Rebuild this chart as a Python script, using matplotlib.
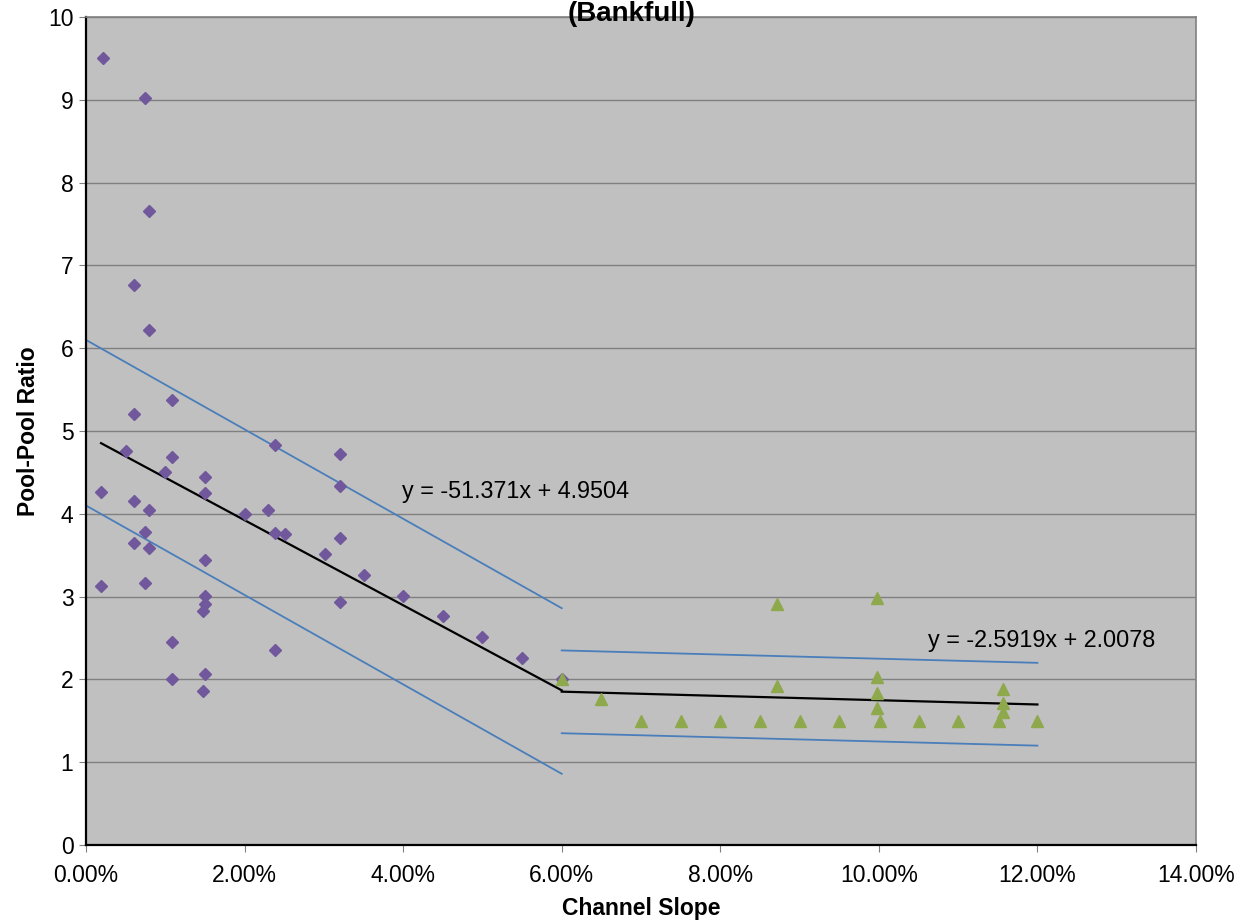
import matplotlib
matplotlib.use("Agg")
import matplotlib.pyplot as plt
from matplotlib.ticker import PercentFormatter, MultipleLocator

plt.rcParams['font.family'] = ['Liberation Sans', 'DejaVu Sans']

# purple diamonds (lower slopes)
slope_a = [0.0022, 0.0074, 0.0079, 0.0060, 0.0079, 0.0060, 0.0108, 0.0050, 0.0238, 0.0320,
           0.0108, 0.0100, 0.0150, 0.0150, 0.0320, 0.0019, 0.0060, 0.0079, 0.0200, 0.0230,
           0.0238, 0.0251, 0.0074, 0.0060, 0.0079, 0.0320, 0.0301, 0.0350, 0.0150, 0.0019,
           0.0074, 0.0150, 0.0150, 0.0147, 0.0320, 0.0108, 0.0108, 0.0150, 0.0147, 0.0238,
           0.0400, 0.0450, 0.0500, 0.0550, 0.0600]
ratio_a = [9.50, 9.02, 7.66, 6.76, 6.22, 5.21, 5.37, 4.76, 4.83, 4.72,
           4.69, 4.50, 4.45, 4.25, 4.33, 4.26, 4.16, 4.04, 4.00, 4.04,
           3.77, 3.76, 3.78, 3.65, 3.59, 3.71, 3.51, 3.26, 3.44, 3.13,
           3.16, 3.01, 2.91, 2.83, 2.94, 2.45, 2.00, 2.06, 1.86, 2.36,
           3.01, 2.76, 2.51, 2.26, 2.01]

# green triangles (steeper slopes)
slope_b = [0.0600, 0.0650, 0.0700, 0.0750, 0.0800, 0.0850, 0.0900, 0.0950, 0.1001, 0.0872,
           0.0872, 0.0998, 0.0998, 0.0998, 0.0998, 0.1050, 0.1100, 0.1151, 0.1156, 0.1156,
           0.1156, 0.1200]
ratio_b = [2.01, 1.76, 1.50, 1.50, 1.50, 1.50, 1.50, 1.50, 1.50, 2.91,
           1.92, 2.98, 2.03, 1.84, 1.65, 1.50, 1.50, 1.50, 1.89, 1.71,
           1.61, 1.50]

# trend lines and bands (end points)
trend1_x = [0.0019, 0.06]
trend1_y = [4.853, 1.868]
trend2_x = [0.06, 0.12]
trend2_y = [1.852, 1.697]
band1_x = [0.0, 0.06]
band1_up = [6.10, 2.86]
band1_lo = [4.10, 0.86]
band2_x = [0.06, 0.12]
band2_up = [2.35, 2.20]
band2_lo = [1.35, 1.20]

fig = plt.figure(figsize=(12.44, 9.22), dpi=100)
ax = fig.add_axes([86/1244, 1-845/922, 1110/1244, 828/922])
ax.set_facecolor('#C0C0C0')

blue = '#4A7EBB'
ax.plot(band1_x, band1_up, color=blue, lw=1.3, zorder=2)
ax.plot(band1_x, band1_lo, color=blue, lw=1.3, zorder=2)
ax.plot(band2_x, band2_up, color=blue, lw=1.3, zorder=2)
ax.plot(band2_x, band2_lo, color=blue, lw=1.3, zorder=2)
ax.plot(trend1_x, trend1_y, color='black', lw=1.6, zorder=3)
ax.plot(trend2_x, trend2_y, color='black', lw=1.6, zorder=3)

ax.plot(slope_a, ratio_a, 'D', color='#71589C', ms=6.5, mec='#71589C', zorder=4)
ax.plot(slope_b, ratio_b, '^', color='#8EA84C', ms=8.5, mec='#8EA84C', zorder=5)

ax.text(0.0399, 4.27, 'y = -51.371x + 4.9504', fontsize=16.8, va='center', ha='left')
ax.text(0.1062, 2.47, 'y = -2.5919x + 2.0078', fontsize=16.8, va='center', ha='left')

ax.set_xlim(0, 0.14)
ax.set_ylim(0, 10)
ax.xaxis.set_major_locator(MultipleLocator(0.02))
ax.xaxis.set_major_formatter(PercentFormatter(xmax=1, decimals=2))
ax.yaxis.set_major_locator(MultipleLocator(1))
ax.grid(axis='y', color='#808080', lw=1.0)
ax.set_axisbelow(True)

for side in ['top', 'right']:
    ax.spines[side].set_color('#808080')
    ax.spines[side].set_linewidth(1.2)
for side in ['left', 'bottom']:
    ax.spines[side].set_color('black')
    ax.spines[side].set_linewidth(1.6)
ax.tick_params(axis='both', labelsize=16.5, length=5, color='#808080', direction='out')
ax.tick_params(axis='x', pad=9)
ax.tick_params(axis='y', pad=4)

ax.set_xlabel('Channel Slope', fontsize=16.5, fontweight='bold', labelpad=7)
ax.set_ylabel('Pool-Pool Ratio', fontsize=16.5, fontweight='bold', labelpad=6)

fig.text(0.508, 1-21/922, '(Bankfull)', fontsize=20, fontweight='bold', ha='center', va='baseline')

fig.savefig('out.png', dpi=100)
